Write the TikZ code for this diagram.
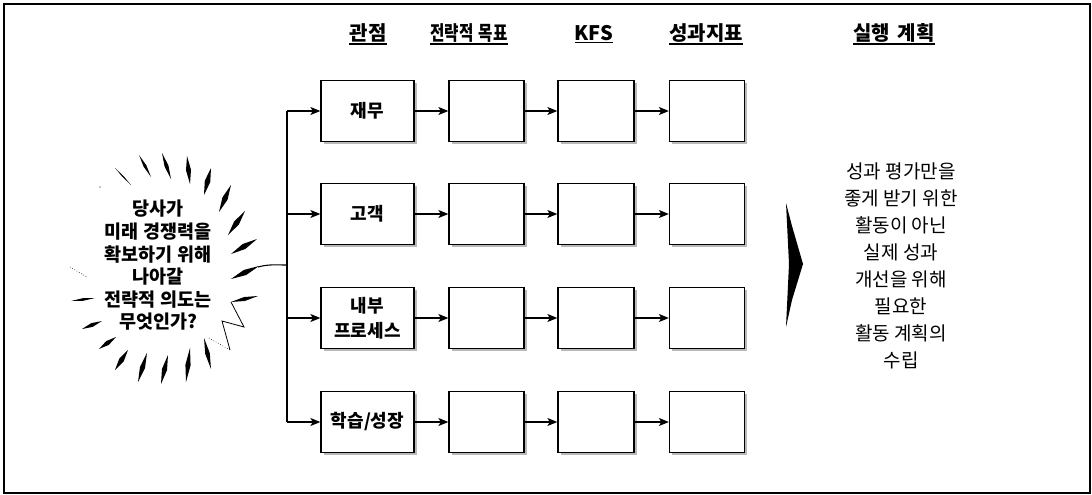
\documentclass[tikz,border=0pt]{standalone}
\usepackage{fontspec}
\newfontfamily\kr{Noto Sans CJK KR}
\usetikzlibrary{arrows.meta,calc,shadows}
\newcommand\brushstroke[3]{\fill (#1) -- ($(#1)!0.5!(#2)!#3!90:(#2)$) -- (#2) -- ($(#1)!0.5!(#2)!#3!-90:(#2)$) -- cycle;}
\begin{document}
\setlength{\lineskiplimit}{-100pt}
\begin{tikzpicture}[x=1pt,y=-1pt,
  box/.style={draw=black,line width=1.3pt,fill=white,minimum height=61pt,inner sep=0pt,
    font=\kr\bfseries\fontsize{18}{25}\selectfont,align=center,
    drop shadow={shadow xshift=2.5pt,shadow yshift=-2.5pt,fill=gray!55,opacity=1}},
  arr/.style={line width=1.1pt,-{Stealth[length=10pt,width=8pt,inset=2.5pt]}},
  ttl/.style={font=\kr\bfseries\fontsize{20}{22}\selectfont,inner sep=0pt},
  burst/.style={font=\kr\bfseries\fontsize{18.5}{22.6}\selectfont,align=center,inner sep=0pt},
  plan/.style={font=\kr\fontsize{19}{26.9}\selectfont,align=center,inner sep=0pt}]
\useasboundingbox (0,0) rectangle (1092,495);
\fill[white] (0,0) rectangle (1092,495);
\draw[line width=1.1pt] (4,4) rectangle (1090,493);

% titles
\foreach \cx/\tt/\nm in {368/관점/t1, 469/\scalebox{0.78}[1]{전략적\hspace{0.35em}목표}/t2, 594/KFS/t3, 706/성과지표/t4, 894/실행\hspace{0.4em}계획/t5}{
  \node[ttl] (\nm) at (\cx,33) {\tt};
  \draw[line width=1.4pt] ([yshift=-1.5pt]\nm.south west) -- ([yshift=-1.5pt]\nm.south east);
}

% boxes
\foreach \ry/\lab/\r in {111/재무/a, 214/고객/b, 318/{내부\\프로세스}/c, 422/{학습/성장}/d}{
  \node[box,minimum width=93pt] (\r1) at (367.5,\ry) {\lab};
  \node[box,minimum width=75pt] (\r2) at (486.5,\ry) {};
  \node[box,minimum width=76pt] (\r3) at (596,\ry) {};
  \node[box,minimum width=75pt] (\r4) at (707,\ry) {};
  \draw[arr] (\r1) -- (\r2);
  \draw[arr] (\r2) -- (\r3);
  \draw[arr] (\r3) -- (\r4);
}

% trunk
\coordinate (trunk) at (287,0);
\coordinate (junc) at (287,265);
\draw[line width=1.1pt] (a1.west -| trunk) -- (d1.west -| trunk);
\foreach \r in {a,b,c,d}{\draw[arr] (\r1.west -| trunk) -- (\r1.west);}

% burst text
\node[burst] (q) at (158,265.5) {당사가\\미래 경쟁력을\\확보하기 위해\\나아갈\\전략적 의도는\\무엇인가?};
\coordinate (bt) at (258,267);
\draw[line width=1.1pt] (bt) to[out=15,in=180] (junc);

% burst rays
\fill (100,187) circle (0.6pt);
\brushstroke{115,168}{131,185}{0.7pt}
\brushstroke{139,155}{151,177}{1.5pt}
\brushstroke{162,153}{171,179}{2pt}
\brushstroke{187,156}{190,184}{2.5pt}
\brushstroke{211,168}{204,195}{2.8pt}
\brushstroke{231,185}{219,212}{2.8pt}
\brushstroke{245,211}{228,235}{2.8pt}
\brushstroke{257,239}{231,254}{2.8pt}
\brushstroke{259,266}{231,279}{2.8pt}
\brushstroke{231,302}{258,296}{2pt}
\draw[line width=0.8pt] (231,302) -- (244,327) -- (222,321) -- (230,350);
\draw[line width=0.6pt,dotted] (209,338) -- (230,350);
\brushstroke{204,338}{211,369}{2.3pt}
\brushstroke{190,348}{186,382}{2.6pt}
\brushstroke{168,355}{161,384}{2.6pt}
\brushstroke{147,353}{138,382}{2.6pt}
\brushstroke{128,350}{115,370}{2.6pt}
\brushstroke{116,337}{99,349}{2.3pt}
\brushstroke{102,321}{82,329}{2pt}
\brushstroke{71,301}{95,298}{1.3pt}
\draw[line width=0.6pt,dotted] (70,267) -- (87,277);

% big chevron
\fill (786,203) -- (792,226) -- (803,264) -- (792,300) -- (786,327) -- (789,264) -- cycle;

% plan text
\node[plan] (p) at (901,266) {성과 평가만을\\좋게 받기 위한\\활동이 아닌\\실제 성과\\개선을 위해\\필요한\\활동 계획의\\수립};
\end{tikzpicture}
\end{document}
